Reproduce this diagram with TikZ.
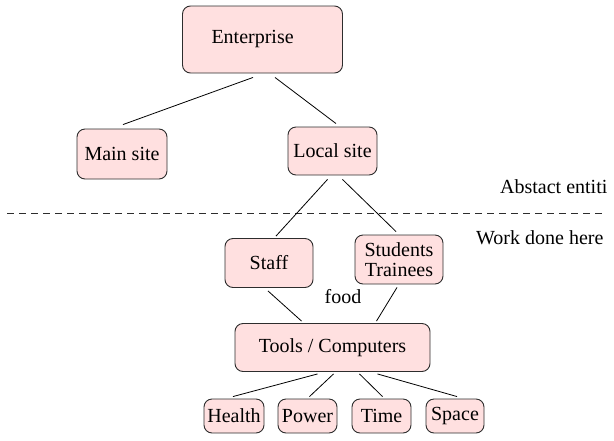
\documentclass[tikz,border=0pt]{standalone}
\usepackage{fontspec}
\setmainfont{Liberation Serif}
\usepackage{tikz}
\usetikzlibrary{calc}
\definecolor{boxpink}{RGB}{255,224,224}
\definecolor{boxline}{RGB}{45,45,45}

\begin{document}
\begin{tikzpicture}[x=1pt, y=-1pt,
  box/.style={draw=boxline, fill=boxpink, line width=0.9pt, rounded corners=8pt,
    inner sep=0pt, align=center, font=\fontsize{20}{20}\selectfont},
  link/.style={line width=0.8pt},
  lbl/.style={inner sep=0pt, font=\fontsize{20}{20}\selectfont}]
  \useasboundingbox (0,0) rectangle (614,440);

  % Top level
  \node[box, minimum width=160pt, minimum height=67pt, inner xsep=29pt,
    text width=102pt, align=left] (ent) at (262.5,39.5) {Enterprise};

  % Sites
  \node[box, minimum width=90pt, minimum height=50pt] (main) at (122,154) {Main site};
  \node[box, minimum width=89pt, minimum height=48pt] (local) at (332.5,151) {Local site};

  % People
  \node[box, minimum width=88pt, minimum height=49pt] (staff) at (269,263) {Staff};
  \node[box, minimum width=88pt, minimum height=49pt] (stud) at (399,259.5) {Students\\Trainees};

  % Tools and resources
  \node[box, minimum width=195pt, minimum height=48pt] (tools) at (332.5,347.5) {Tools / Computers};
  \node[box, minimum width=60pt, minimum height=34pt] (health) at (234,416) {Health};
  \node[box, minimum width=59pt, minimum height=34pt] (power) at (307.5,416) {Power};
  \node[box, minimum width=59pt, minimum height=34pt] (time) at (381.5,416) {Time};
  \node[box, minimum width=58pt, minimum height=34pt] (space) at (455,416) {Space};

  % Free labels
  \node[lbl, anchor=west] (abst) at (500,187) {Abstact entiti};
  \node[lbl, anchor=west] (work) at (476,238) {Work done here};
  \node[lbl] (food) at (343,297) {food};

  % Separator
  \draw[boxline, line width=0.9pt, dash pattern=on 7pt off 5pt] (7,213) -- (605,213);

  % Links
  \draw[link] ($(ent.south)+(-9.5,4)$) -- ($(main.north)+(1,-4)$);
  \draw[link] ($(ent.south)+(12.5,4)$) -- ($(local.north)+(3.5,-3)$);
  \draw[link] ($(local.south)+(-5,4)$) -- ($(staff.north)+(7,-2)$);
  \draw[link] ($(local.south)+(10,4)$) -- ($(stud.north)+(-3,-3)$);
  \draw[link] ($(staff.south)+(-1,3)$) -- ($(tools.north)+(-31,-2)$);
  \draw[link] ($(stud.south)+(-2,3)$) -- ($(tools.north)+(44,-2)$);
  \draw[link] ($(tools.south)+(-15,2)$) -- ($(health.north)+(-1,-2)$);
  \draw[link] ($(tools.south)+(1,2)$) -- ($(power.north)+(2,-2)$);
  \draw[link] ($(tools.south)+(27,2)$) -- ($(time.north)+(1,-2)$);
  \draw[link] ($(tools.south)+(45,2)$) -- ($(space.north)+(2,-2)$);
\end{tikzpicture}
\end{document}
